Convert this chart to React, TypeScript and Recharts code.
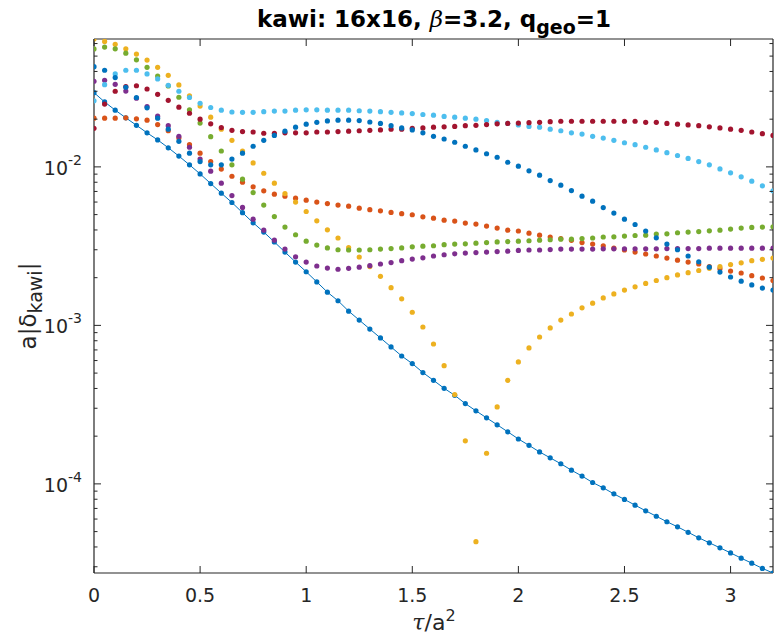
import { Line, LineChart, XAxis, YAxis } from "recharts";

const BLUE = "#0072BD";
const ORANGE = "#D95319";
const YELLOW = "#EDB120";
const PURPLE = "#7E2F8E";
const GREEN = "#77AC30";
const LIGHTBLUE = "#4DBEEE";
const DARKRED = "#A2142F";
const AXIS = "#262626";
const FONT = "'DejaVu Sans', sans-serif";

// tau / a^2
const tau = [
  0, 0.05, 0.1, 0.15, 0.2, 0.25, 0.3, 0.35, 0.4, 0.45,
  0.5, 0.55, 0.6, 0.65, 0.7, 0.75, 0.8, 0.85, 0.9, 0.95,
  1, 1.05, 1.1, 1.15, 1.2, 1.25, 1.3, 1.35, 1.4, 1.45,
  1.5, 1.55, 1.6, 1.65, 1.7, 1.75, 1.8, 1.85, 1.9, 1.95,
  2, 2.05, 2.1, 2.15, 2.2, 2.25, 2.3, 2.35, 2.4, 2.45,
  2.5, 2.55, 2.6, 2.65, 2.7, 2.75, 2.8, 2.85, 2.9, 2.95,
  3, 3.05, 3.1, 3.15, 3.2,
];

const blueLine = [
  0.0294, 0.0257, 0.0228, 0.0204, 0.0183, 0.0164, 0.0148, 0.0132, 0.0117, 0.0103,
  0.00903, 0.00785, 0.00683, 0.00596, 0.00514, 0.00444, 0.00388, 0.00336, 0.0029, 0.00251,
  0.00218, 0.00188, 0.00162, 0.00143, 0.00123, 0.00108, 0.000948, 0.000833, 0.000731, 0.000641,
  0.000574, 0.000504, 0.00045, 0.000401, 0.000362, 0.000321, 0.000289, 0.000261, 0.000236, 0.000213,
  0.000192, 0.000175, 0.000159, 0.000146, 0.000134, 0.000122, 0.000112, 0.000102, 9.44e-5, 8.65e-5,
  7.98e-5, 7.34e-5, 6.76e-5, 6.25e-5, 5.77e-5, 5.36e-5, 4.95e-5, 4.57e-5, 4.25e-5, 3.95e-5,
  3.67e-5, 3.4e-5, 3.16e-5, 2.93e-5, 2.74e-5,
];

const orange = [
  0.0203, 0.0203, 0.0203, 0.0204, 0.0201, 0.0197, 0.0185, 0.0169, 0.0152, 0.0138,
  0.0122, 0.0108, 0.00968, 0.00873, 0.00801, 0.00748, 0.00706, 0.00673, 0.00653, 0.00635,
  0.00617, 0.006, 0.00587, 0.00574, 0.00565, 0.00549, 0.00537, 0.00528, 0.00516, 0.00507,
  0.00499, 0.00484, 0.00475, 0.00461, 0.00455, 0.00442, 0.00436, 0.00423, 0.00411, 0.00399,
  0.00394, 0.00382, 0.00371, 0.00361, 0.00353, 0.00344, 0.00333, 0.00326, 0.00318, 0.00307,
  0.00299, 0.0029, 0.00282, 0.00274, 0.00266, 0.00258, 0.00251, 0.00244, 0.00235, 0.00228,
  0.0022, 0.00214, 0.00206, 0.00199, 0.00192,
];

const yellow = [
  0.0641, 0.0619, 0.0593, 0.0556, 0.0515, 0.0472, 0.0425, 0.0378, 0.0329, 0.0281,
  0.0242, 0.0206, 0.0173, 0.0147, 0.0126, 0.0106, 0.00912, 0.00789, 0.00679, 0.006,
  0.00523, 0.00457, 0.00401, 0.00356, 0.0031, 0.0027, 0.00235, 0.00204, 0.00173, 0.00147,
  0.00121, 0.000977, 0.000763, 0.000557, 0.000366, 0.000187, 4.32e-5, 0.000156, 0.000306, 0.00045,
  0.000588, 0.000721, 0.000845, 0.000964, 0.00108, 0.00118, 0.00129, 0.00138, 0.00149, 0.00158,
  0.00167, 0.00175, 0.00184, 0.00192, 0.002, 0.00208, 0.00215, 0.00222, 0.00229, 0.00235,
  0.00242, 0.00248, 0.00256, 0.00261, 0.00266,
];

const purple = [
  0.0347, 0.0352, 0.0332, 0.0301, 0.0271, 0.024, 0.0209, 0.0182, 0.0156, 0.0133,
  0.0112, 0.0094, 0.00789, 0.00659, 0.00555, 0.00468, 0.00399, 0.00345, 0.00303, 0.00271,
  0.00251, 0.00237, 0.0023, 0.00226, 0.00229, 0.00233, 0.00238, 0.00244, 0.00249, 0.00256,
  0.00262, 0.00267, 0.00274, 0.00279, 0.00283, 0.00286, 0.00288, 0.0029, 0.00292, 0.00294,
  0.00297, 0.00299, 0.00299, 0.00301, 0.00303, 0.00303, 0.00303, 0.00303, 0.00304, 0.00304,
  0.00304, 0.00304, 0.00304, 0.00304, 0.00305, 0.00305, 0.00305, 0.00305, 0.00307, 0.00307,
  0.00307, 0.00307, 0.00307, 0.00307, 0.00307,
];

const green = [
  0.0555, 0.057, 0.0556, 0.0522, 0.0474, 0.0425, 0.0374, 0.0324, 0.0275, 0.0229,
  0.0189, 0.0155, 0.0126, 0.0103, 0.00836, 0.00689, 0.00574, 0.00486, 0.00417, 0.00373,
  0.0034, 0.00321, 0.00308, 0.003, 0.00299, 0.00299, 0.003, 0.00303, 0.00305, 0.00308,
  0.00313, 0.00316, 0.00318, 0.00323, 0.00326, 0.00327, 0.0033, 0.00333, 0.00336, 0.00338,
  0.0034, 0.00342, 0.00345, 0.00347, 0.0035, 0.0035, 0.00353, 0.00356, 0.00361, 0.00362,
  0.00366, 0.00369, 0.00371, 0.00377, 0.00378, 0.00384, 0.00388, 0.00391, 0.00395, 0.00399,
  0.00405, 0.00411, 0.00415, 0.00417, 0.00419,
];

const lightBlue = [
  0.0261, 0.033, 0.0386, 0.0407, 0.0407, 0.0386, 0.0359, 0.0327, 0.03, 0.0274,
  0.0252, 0.0237, 0.0228, 0.0222, 0.0221, 0.0221, 0.0223, 0.0225, 0.0225, 0.0228,
  0.0229, 0.0229, 0.0228, 0.0228, 0.0228, 0.0226, 0.0225, 0.0223, 0.0221, 0.0219,
  0.0217, 0.0214, 0.0212, 0.0208, 0.0206, 0.0203, 0.02, 0.0196, 0.0191, 0.0188,
  0.0184, 0.018, 0.0178, 0.0173, 0.0169, 0.0164, 0.0161, 0.0156, 0.0152, 0.0147,
  0.0142, 0.0138, 0.0133, 0.0128, 0.0123, 0.0118, 0.0113, 0.0108, 0.0103, 0.00971,
  0.00917, 0.00865, 0.00813, 0.00759, 0.00706,
];

const darkRed = [
  0.0175, 0.0249, 0.03, 0.0321, 0.0325, 0.031, 0.0287, 0.0263, 0.0238, 0.0218,
  0.02, 0.0187, 0.0177, 0.017, 0.0167, 0.0166, 0.0163, 0.0163, 0.0164, 0.0164,
  0.0164, 0.0166, 0.0166, 0.0167, 0.0168, 0.0169, 0.017, 0.0171, 0.0173, 0.0173,
  0.0175, 0.0176, 0.0178, 0.0179, 0.018, 0.0182, 0.0183, 0.0185, 0.0187, 0.0188,
  0.0189, 0.019, 0.0191, 0.0193, 0.0194, 0.0194, 0.0194, 0.0194, 0.0194, 0.0194,
  0.0194, 0.0194, 0.0191, 0.0191, 0.0188, 0.0186, 0.0184, 0.0182, 0.0179, 0.0176,
  0.0173, 0.017, 0.0166, 0.0162, 0.0158,
];

const blueDots = [
  0.0429, 0.0407, 0.0366, 0.0318, 0.0274, 0.0236, 0.0203, 0.0173, 0.0145, 0.0122,
  0.0108, 0.0103, 0.0103, 0.0112, 0.0122, 0.0135, 0.0147, 0.0158, 0.0168, 0.0178,
  0.0186, 0.0191, 0.0195, 0.0197, 0.0197, 0.0196, 0.0192, 0.0188, 0.0182, 0.0176,
  0.0171, 0.0164, 0.0156, 0.015, 0.0143, 0.0135, 0.0128, 0.0121, 0.0115, 0.0107,
  0.0101, 0.00944, 0.00887, 0.0082, 0.00767, 0.00709, 0.00653, 0.00608, 0.00554, 0.00511,
  0.00468, 0.00433, 0.00394, 0.00357, 0.00326, 0.003, 0.00274, 0.00252, 0.00233, 0.00217,
  0.00202, 0.0019, 0.0018, 0.00172, 0.00167,
];

const xTicks = [0, 0.5, 1, 1.5, 2, 2.5, 3];
const xTickLabels = ["0", "0.5", "1", "1.5", "2", "2.5", "3"];
const yMajor = [1e-4, 1e-3, 1e-2];
const yMajorExp = ["-4", "-3", "-2"];
const yMinor = [
  3e-5, 4e-5, 5e-5, 6e-5, 7e-5, 8e-5, 9e-5,
  2e-4, 3e-4, 4e-4, 5e-4, 6e-4, 7e-4, 8e-4, 9e-4,
  2e-3, 3e-3, 4e-3, 5e-3, 6e-3, 7e-3, 8e-3, 9e-3,
  2e-2, 3e-2, 4e-2, 5e-2, 6e-2,
];
const yTicks = [...yMinor, ...yMajor].sort((a, b) => a - b);
const yDomain = [2.74e-5, 0.0641];

const data = tau.map((t, i) => ({
  tau: t,
  blueLine: blueLine[i],
  orange: orange[i],
  yellow: yellow[i],
  purple: purple[i],
  green: green[i],
  lightBlue: lightBlue[i],
  darkRed: darkRed[i],
  blueDots: blueDots[i],
}));

const series = [
  { key: "orange", color: ORANGE },
  { key: "yellow", color: YELLOW },
  { key: "purple", color: PURPLE },
  { key: "green", color: GREEN },
  { key: "lightBlue", color: LIGHTBLUE },
  { key: "darkRed", color: DARKRED },
  { key: "blueDots", color: BLUE },
];

const LeftTick = (props: any) => {
  const { x, y, payload } = props;
  const k = yMajor.indexOf(payload.value);
  return (
    <g>
      <line x1={x} y1={y} x2={x + (k >= 0 ? 7 : 3.5)} y2={y} stroke={AXIS} strokeWidth={1} />
      {k >= 0 && (
        <text x={x - 12} y={y + 8} textAnchor="end" fill={AXIS} fontFamily={FONT} fontSize={19}>
          10
          <tspan dy={-10} fontSize={14}>
            {yMajorExp[k]}
          </tspan>
        </text>
      )}
    </g>
  );
};

const RightTick = (props: any) => {
  const { x, y, payload } = props;
  const major = yMajor.indexOf(payload.value) >= 0;
  return <line x1={x} y1={y} x2={x - (major ? 7 : 3.5)} y2={y} stroke={AXIS} strokeWidth={1} />;
};

const BottomTick = (props: any) => {
  const { x, y, payload } = props;
  const k = xTicks.indexOf(payload.value);
  return (
    <g>
      <line x1={x} y1={y} x2={x} y2={y - 7} stroke={AXIS} strokeWidth={1} />
      <text x={x} y={y + 29} textAnchor="middle" fill={AXIS} fontFamily={FONT} fontSize={19}>
        {xTickLabels[k]}
      </text>
    </g>
  );
};

const TopTick = (props: any) => {
  const { x, y } = props;
  return <line x1={x} y1={y} x2={x} y2={y + 7} stroke={AXIS} strokeWidth={1} />;
};

const App = () => {
  return (
    <div style={{ position: "absolute", left: 0, top: 0, width: 778, height: 642, background: "#fff" }}>
      <LineChart width={778} height={642} data={data} margin={{ top: 0, right: 0, bottom: 0, left: 0 }}>
        <XAxis
          xAxisId="bottom"
          dataKey="tau"
          type="number"
          domain={[0, 3.2]}
          allowDataOverflow
          ticks={xTicks}
          interval={0}
          height={69}
          tickSize={0}
          tickMargin={0}
          tickLine={false}
          axisLine={{ stroke: AXIS, strokeWidth: 1.2 }}
          tick={BottomTick}
        />
        <XAxis
          xAxisId="top"
          orientation="top"
          dataKey="tau"
          type="number"
          domain={[0, 3.2]}
          allowDataOverflow
          ticks={xTicks}
          interval={0}
          height={39}
          tickSize={0}
          tickMargin={0}
          tickLine={false}
          axisLine={{ stroke: AXIS, strokeWidth: 1.2 }}
          tick={TopTick}
        />
        <YAxis
          yAxisId="left"
          scale="log"
          type="number"
          domain={yDomain}
          allowDataOverflow
          ticks={yTicks}
          interval={0}
          width={94}
          tickSize={0}
          tickMargin={0}
          tickLine={false}
          axisLine={{ stroke: AXIS, strokeWidth: 1.2 }}
          tick={LeftTick}
        />
        <YAxis
          yAxisId="right"
          orientation="right"
          scale="log"
          type="number"
          domain={yDomain}
          allowDataOverflow
          ticks={yTicks}
          interval={0}
          width={5}
          tickSize={0}
          tickMargin={0}
          tickLine={false}
          axisLine={{ stroke: AXIS, strokeWidth: 1.2 }}
          tick={RightTick}
        />
        <Line
          xAxisId="bottom"
          yAxisId="left"
          dataKey="blueLine"
          stroke={BLUE}
          strokeWidth={1}
          dot={{ r: 2.6, fill: BLUE, stroke: "none" }}
          activeDot={false}
          isAnimationActive={false}
        />
        {series.map((s) => (
          <Line
            key={s.key}
            xAxisId="bottom"
            yAxisId="left"
            dataKey={s.key}
            stroke="none"
            dot={{ r: 2.6, fill: s.color, stroke: "none" }}
            activeDot={false}
            isAnimationActive={false}
          />
        ))}
      </LineChart>
      <div
        style={{
          position: "absolute",
          left: 434,
          top: 4,
          transform: "translateX(-50%)",
          whiteSpace: "nowrap",
          fontFamily: FONT,
          fontWeight: "bold",
          fontSize: 23,
          color: "#000",
          lineHeight: "30px",
        }}
      >
        kawi: 16x16, <span style={{ fontFamily: "'DejaVu Serif', serif", fontStyle: "italic", fontWeight: "normal" }}>β</span>=3.2, q
        <sub style={{ fontSize: 19, verticalAlign: "-7px" }}>geo</sub>=1
      </div>
      <div
        style={{
          position: "absolute",
          left: 30,
          top: 306,
          transform: "translate(-50%, -50%) rotate(-90deg)",
          whiteSpace: "nowrap",
          fontFamily: FONT,
          fontSize: 23,
          color: AXIS,
        }}
      >
        a|δ<sub style={{ fontSize: 19, verticalAlign: "-6px" }}>kawi</sub>|
      </div>
      <div
        style={{
          position: "absolute",
          left: 434,
          top: 606,
          transform: "translateX(-50%)",
          whiteSpace: "nowrap",
          fontFamily: FONT,
          fontSize: 22,
          color: AXIS,
        }}
      >
        <span style={{ fontFamily: "'DejaVu Serif', serif", fontStyle: "italic" }}>τ</span>/a
        <sup style={{ fontSize: 16, verticalAlign: "9px" }}>2</sup>
      </div>
    </div>
  );
};

export default App;
